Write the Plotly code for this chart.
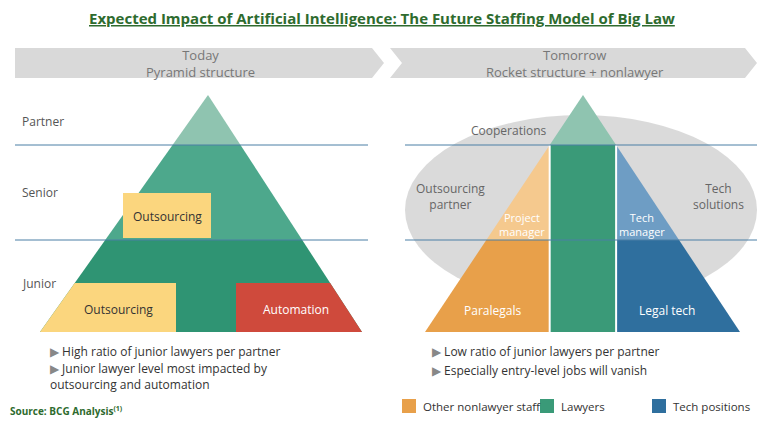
import plotly.graph_objects as go

title = "<b><u>Expected Impact of Artificial Intelligence: The Future Staffing Model of Big Law</u></b>"
headers = ["Today<br>Pyramid structure", "Tomorrow<br>Rocket structure + nonlawyer"]
levels = ["Partner", "Senior", "Junior"]
left_bullets = ["High ratio of junior lawyers per partner",
                "Junior lawyer level most impacted by<br>outsourcing and automation"]
right_bullets = ["Low ratio of junior lawyers per partner",
                 "Especially entry-level jobs will vanish"]
legend_labels = ["Other nonlawyer staff", "Lawyers", "Tech positions"]
legend_colors = ["#E8A04A", "#3A9A78", "#2F6F9E"]

# geometry (pixel space)
L_apex, L_base = (208, 95), (40, 362, 332)
R_apex, R_base = (583, 95), (425, 740, 332)
y1, y2 = 145, 240

def lx(x0, ax, ay, yb, y):
    return x0 + (yb - y) / (yb - ay) * (ax - x0)

fig = go.Figure()
shapes = []
def poly(pts, color, opacity=1):
    p = "M " + " L ".join(f"{x},{y}" for x, y in pts) + " Z"
    shapes.append(dict(type="path", path=p, fillcolor=color, line=dict(color="rgba(0,0,0,0)", width=0), opacity=opacity, layer="above"))

# banners
poly([(15, 48), (372, 48), (384, 63), (372, 78), (15, 78)], "#D9D9D9")
poly([(390, 48), (745, 48), (757, 63), (745, 78), (390, 78), (402, 63)], "#D9D9D9")

# ellipse
shapes.append(dict(type="circle", x0=405, x1=757, y0=115, y1=305, fillcolor="#D3D3D3", line=dict(width=0), opacity=0.85, layer="above"))

# left pyramid
ax, ay = L_apex; bl, br, yb = L_base
def ll(y): return lx(bl, ax, ay, yb, y)
def lr(y): return lx(br, ax, ay, yb, y)
poly([(ax, ay), (lr(y1), y1), (ll(y1), y1)], "#8FC4B0")
poly([(ll(y1), y1), (lr(y1), y1), (lr(y2), y2), (ll(y2), y2)], "#4DA88C")
poly([(ll(y2), y2), (lr(y2), y2), (br, yb), (bl, yb)], "#2F9473")
poly([(123, 193), (211, 193), (211, 238), (123, 238)], "#FBD67E")
poly([(ll(283), 283), (176, 283), (176, yb), (bl, yb)], "#FBD67E")
poly([(236, 283), (lr(283), 283), (br, yb), (236, yb)], "#CF4A3C")

# right rocket
ax, ay = R_apex; bl, br, yb = R_base
def rl(y): return lx(bl, ax, ay, yb, y)
def rr(y): return lx(br, ax, ay, yb, y)
cl, cr = rl(y1), rr(y1)
poly([(ax, ay), (cr, y1), (cl, y1)], "#8FC4B0")
poly([(cl, y1), (cr, y1), (cr, yb), (cl, yb)], "#3A9A78")
poly([(cl, y1), (cl, y2), (rl(y2), y2)], "#F5C98E")
poly([(rl(y2), y2), (cl, y2), (cl, yb), (bl, yb)], "#E8A04A")
poly([(cr, y1), (rr(y2), y2), (cr, y2)], "#6E9DC4")
poly([(cr, y2), (rr(y2), y2), (br, yb), (cr, yb)], "#2F6F9E")
for x0 in (cl, cr):
    shapes.append(dict(type="line", x0=x0, x1=x0, y0=y1, y1=yb, line=dict(color="white", width=2), layer="above"))

# level lines
for y in (y1, y2):
    shapes.append(dict(type="line", x0=15, x1=368, y0=y, y1=y, line=dict(color="#4A7FA5", width=1), layer="above"))
    shapes.append(dict(type="line", x0=405, x1=757, y0=y, y1=y, line=dict(color="#4A7FA5", width=1), layer="above"))

# legend squares
legend_x = [402, 540, 652]
for x, c in zip(legend_x, legend_colors):
    shapes.append(dict(type="rect", x0=x, x1=x+14, y0=399, y1=413, fillcolor=c, line=dict(width=0)))

anns = []
def txt(x, y, t, size=12, color="#333", anchor="center", bold=False):
    anns.append(dict(x=x, y=y, text=f"<b>{t}</b>" if bold else t, showarrow=False, xanchor=anchor,
                     font=dict(size=size, color=color), align="center" if anchor == "center" else "left"))

txt(382, 18, title, 15, "#2E6B2E")
txt(200, 63, headers[0], 13, "#777")
txt(575, 63, headers[1], 13, "#777")
for lab, y in zip(levels, [121, 192, 283]):
    txt(20, y, lab, 12, "#555", "left")
txt(167, 216, "Outsourcing", 12, "#333")
txt(118, 309, "Outsourcing", 12, "#333")
txt(296, 309, "Automation", 12, "white")
txt(509, 130, "Cooperations", 12, "#666")
txt(450, 196, "Outsourcing<br>partner", 12, "#666")
txt(718, 196, "Tech<br>solutions", 12, "#666")
txt(522, 224, "Project<br>manager", 11, "white")
txt(642, 224, "Tech<br>manager", 11, "white")
txt(492, 310, "Paralegals", 12, "white")
txt(667, 310, "Legal tech", 12, "white")
for t, y in zip(left_bullets, [351, 376]):
    txt(48, y, "<span style='color:#888'>▶</span> " + t, 12, "#333", "left")
for t, y in zip(right_bullets, [351, 370]):
    txt(430, y, "<span style='color:#888'>▶</span> " + t, 12, "#333", "left")
for x, lab in zip(legend_x, legend_labels):
    txt(x + 19, 406, lab, 11.5, "#333", "left")
txt(8, 411, "Source: BCG Analysis<sup>(1)</sup>", 10, "#2E6B2E", "left", True)

fig.update_layout(width=764, height=426, margin=dict(l=0, r=0, t=0, b=0),
                  plot_bgcolor="white", paper_bgcolor="white", shapes=shapes, annotations=anns,
                  font=dict(family="Open Sans"),
                  xaxis=dict(range=[0, 764], visible=False, fixedrange=True),
                  yaxis=dict(range=[426, 0], visible=False, fixedrange=True), showlegend=False)
fig.write_html("out.html", config=dict(displayModeBar=False),
               post_script="document.body.style.margin='0';document.body.style.overflow='hidden';")
